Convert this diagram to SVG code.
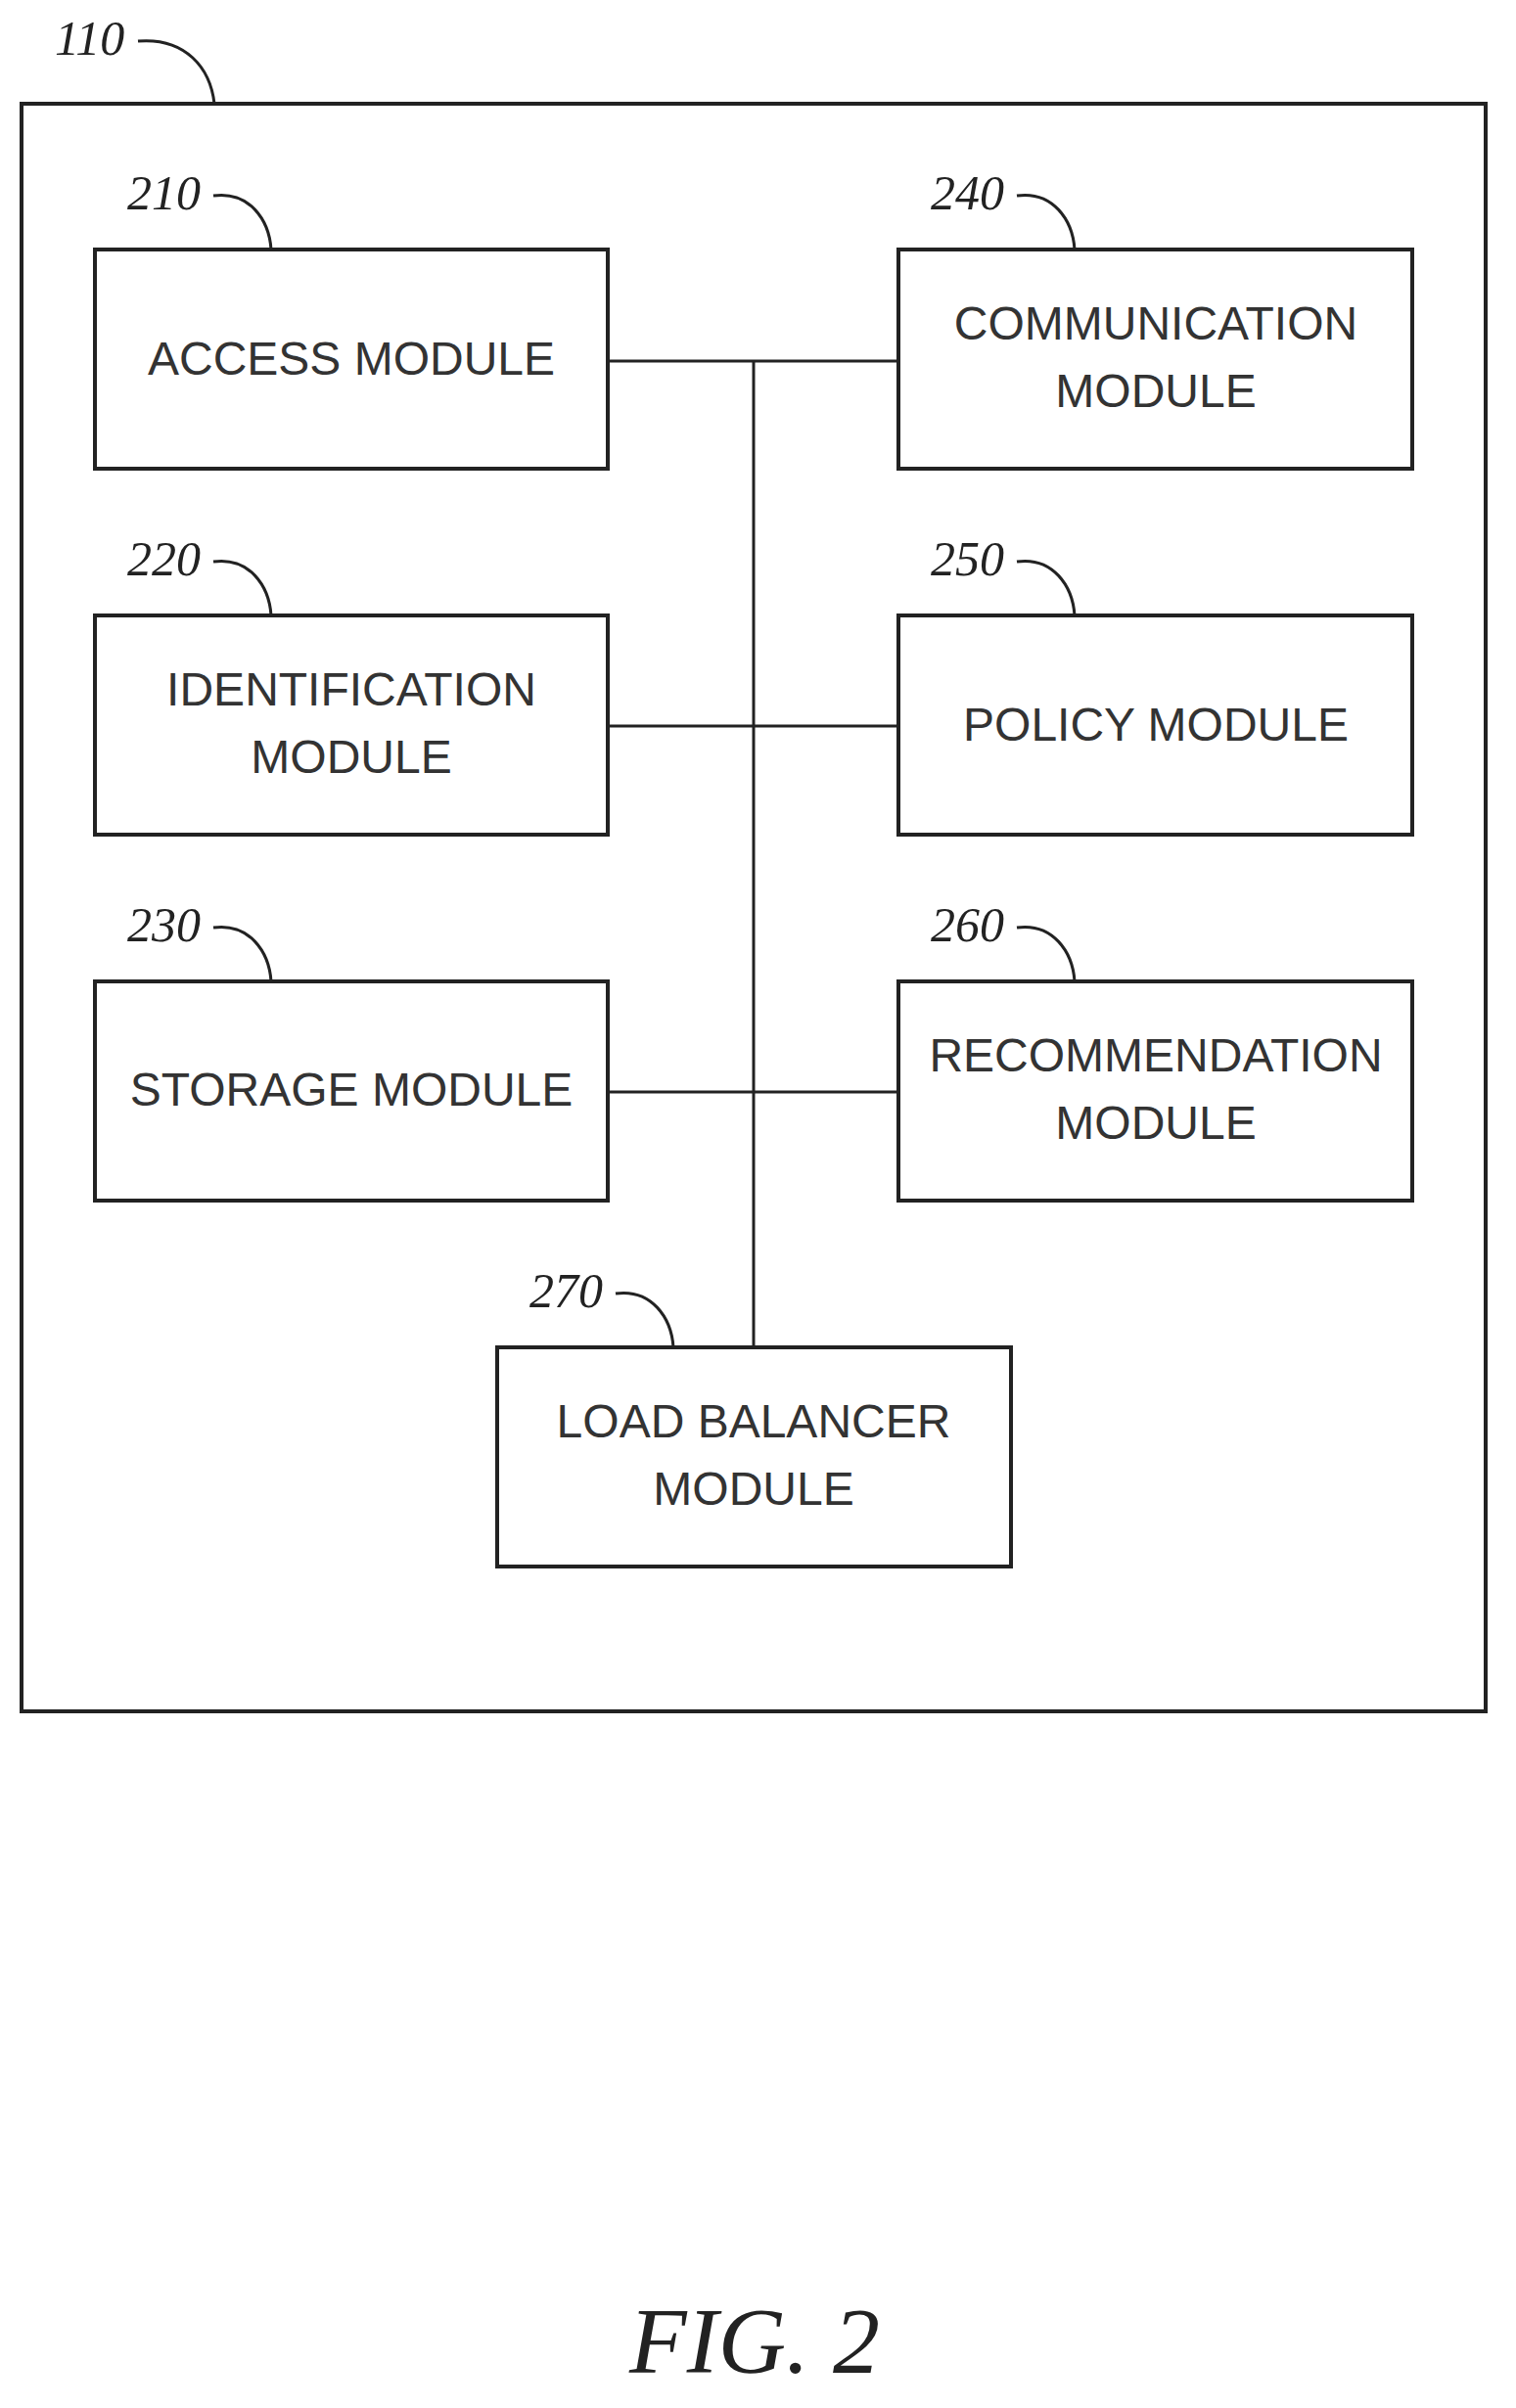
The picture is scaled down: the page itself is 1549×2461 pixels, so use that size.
<svg xmlns="http://www.w3.org/2000/svg" width="1549" height="2461" viewBox="0 0 1549 2461">
<style>
.b{fill:#fff;stroke:#222;stroke-width:4}
.t{font-family:"Liberation Sans",Arial,sans-serif;font-size:48px;fill:#333;text-anchor:middle}
.n{font-family:"Liberation Serif","Times New Roman",serif;font-style:italic;font-size:50px;fill:#222}
.c{fill:none;stroke:#222;stroke-width:3}
</style>
<rect width="1549" height="2461" fill="#fff"/>
<g id="n110">
<rect class="b" x="22" y="106" width="1496" height="1643" stroke-width="5"/>
<text class="n" x="56" y="56">110</text>
<path class="c" d="M141,42 C190,38 215,70 219,106"/>
</g>
<g id="connectors">
<path class="c" d="M621,369 H918 M621,742 H918 M621,1116 H918 M770,369 V1377"/>
</g>
<g id="n210"><rect class="b" x="97" y="255" width="524" height="224"/><text class="t" x="359" y="383">ACCESS MODULE</text><text class="n" x="130" y="214">210</text><path class="c" d="M218,200 C255,195 275,225 277,255"/></g>
<g id="n220"><rect class="b" x="97" y="629" width="524" height="224"/><text class="t" x="359" y="721">IDENTIFICATION</text><text class="t" x="359" y="790">MODULE</text><text class="n" x="130" y="588">220</text><path class="c" d="M218,574 C255,569 275,599 277,629"/></g>
<g id="n230"><rect class="b" x="97" y="1003" width="524" height="224"/><text class="t" x="359" y="1130">STORAGE MODULE</text><text class="n" x="130" y="962">230</text><path class="c" d="M218,948 C255,943 275,973 277,1003"/></g>
<g id="n240"><rect class="b" x="918" y="255" width="525" height="224"/><text class="t" x="1181" y="347">COMMUNICATION</text><text class="t" x="1181" y="416">MODULE</text><text class="n" x="951" y="214">240</text><path class="c" d="M1039,200 C1076,195 1096,225 1098,255"/></g>
<g id="n250"><rect class="b" x="918" y="629" width="525" height="224"/><text class="t" x="1181" y="757">POLICY MODULE</text><text class="n" x="951" y="588">250</text><path class="c" d="M1039,574 C1076,569 1096,599 1098,629"/></g>
<g id="n260"><rect class="b" x="918" y="1003" width="525" height="224"/><text class="t" x="1181" y="1095">RECOMMENDATION</text><text class="t" x="1181" y="1164">MODULE</text><text class="n" x="951" y="962">260</text><path class="c" d="M1039,948 C1076,943 1096,973 1098,1003"/></g>
<g id="n270"><rect class="b" x="508" y="1377" width="525" height="224"/><text class="t" x="770" y="1469">LOAD BALANCER</text><text class="t" x="770" y="1538">MODULE</text><text class="n" x="541" y="1336">270</text><path class="c" d="M629,1322 C666,1317 686,1347 688,1377"/></g>
<text x="771" y="2425" font-family="Liberation Serif,'Times New Roman',serif" font-style="italic" font-size="96" fill="#222" text-anchor="middle">FIG. 2</text>
</svg>
